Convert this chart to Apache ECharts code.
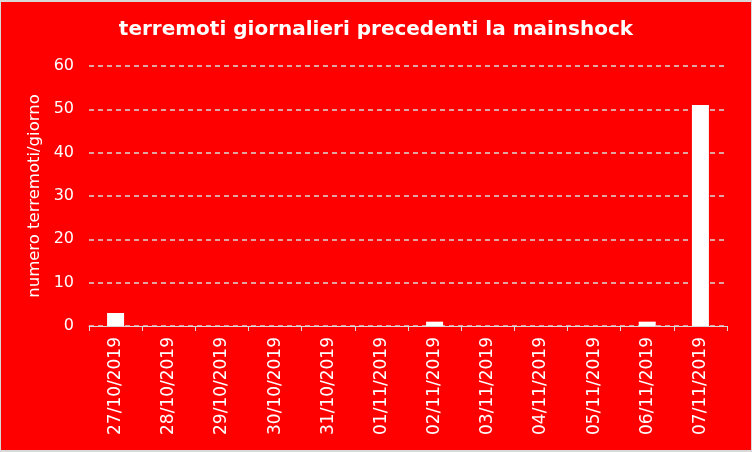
<!DOCTYPE html>
<html>
<head>
<meta charset="utf-8">
<script src="https://cdn.jsdelivr.net/npm/echarts@6/dist/echarts.min.js"></script>
<style>
  html, body { margin: 0; padding: 0; background: #d9d9d9; }
  #chart { position: absolute; left: 1px; top: 2px; width: 750px; height: 448px; }
</style>
</head>
<body>
<div id="chart"></div>
<script>
// giorni e conteggi
const giorni = ['27/10/2019', '28/10/2019', '29/10/2019', '30/10/2019', '31/10/2019', '01/11/2019',
  '02/11/2019', '03/11/2019', '04/11/2019', '05/11/2019', '06/11/2019', '07/11/2019'];
const terremoti = [3, 0, 0, 0, 0, 0, 1, 0, 0, 0, 1, 51];

const font = 'DejaVu Sans, Verdana, sans-serif';

const myChart = echarts.init(document.getElementById('chart'));
myChart.setOption({
  backgroundColor: '#ff0000',
  animation: false,
  title: {
    text: 'terremoti giornalieri precedenti la mainshock',
    left: 'center',
    top: 13,
    textStyle: { color: '#fff', fontFamily: font, fontSize: 20, fontWeight: 'bold' }
  },
  grid: { left: 88, right: 24, top: 64, bottom: 124 },
  xAxis: {
    type: 'category',
    data: giorni,
    axisLine: { lineStyle: { color: '#d9d9d9', width: 1 } },
    axisTick: { show: true, length: 5, lineStyle: { color: '#d9d9d9' } },
    axisLabel: { rotate: 90, color: '#fff', fontFamily: font, fontSize: 17, margin: 11 }
  },
  yAxis: {
    type: 'value',
    min: 0,
    max: 60,
    interval: 10,
    name: 'numero terremoti/giorno',
    nameLocation: 'middle',
    nameGap: 40,
    nameTextStyle: { color: '#fff', fontFamily: font, fontSize: 16.5 },
    axisLine: { show: false },
    axisTick: { show: false },
    axisLabel: { color: '#fff', fontFamily: font, fontSize: 16, margin: 15 },
    splitLine: { lineStyle: { color: '#d9d9d9', type: [5, 4], width: 1.5 } }
  },
  series: [{
    type: 'bar',
    data: terremoti,
    barWidth: 17,
    itemStyle: { color: '#ffffff' }
  }]
});
</script>
</body>
</html>
